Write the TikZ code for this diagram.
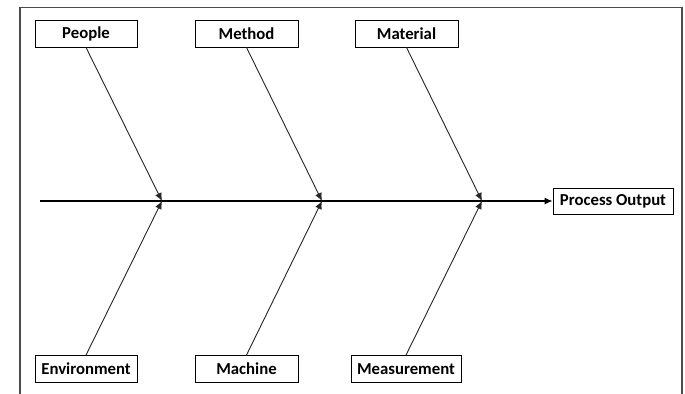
\documentclass[tikz,border=0pt]{standalone}
\usepackage{fontspec}
\setmainfont{Carlito}
\usetikzlibrary{arrows.meta}
\begin{document}
\begin{tikzpicture}[x=1bp,y=-1bp,
  cat/.style={draw=black,line width=0.9bp,fill=white,font=\fontsize{16.8}{18}\selectfont\bfseries,
    minimum height=27bp,inner sep=0pt,anchor=center},
  bone/.style={line width=0.9bp,draw=black!85,-{Latex[length=8bp,width=7bp]}},
  spine/.style={line width=1.1bp,draw=black,-{Latex[length=8bp,width=7bp]}}]
\useasboundingbox (0,0) rectangle (685,393);
\fill[white] (0,0) rectangle (685,393);
\draw[line width=1.2bp,draw=black!70] (20,400) -- (20,7.5) -- (682,7.5) -- (682,400);
% category nodes
\node[cat,minimum width=102bp] (people) at (86,33.5) {People};
\node[cat,minimum width=103bp] (method) at (246.5,33.5) {Method};
\node[cat,minimum width=103bp] (material) at (406.5,33.5) {Material};
\node[cat,minimum width=102bp] (env) at (86,369) {Environment};
\node[cat,minimum width=103bp] (machine) at (246.5,369) {Machine};
\node[cat,minimum width=110bp] (meas) at (406,369) {Measurement};
\node[cat,minimum width=120bp,minimum height=26bp] (out) at (613,201) {Process Output};
% spine
\coordinate (start) at (40,201);
\coordinate (j1) at (162,201);
\coordinate (j2) at (322,201);
\coordinate (j3) at (482,201);
\draw[spine] (start) -- (out.west);
% bones
\draw[bone] (people.south) -- (j1);
\draw[bone] (env.north) -- (j1);
\draw[bone] (method.south) -- (j2);
\draw[bone] (machine.north) -- (j2);
\draw[bone] (material.south) -- (j3);
\draw[bone] (meas.north) -- (j3);
\end{tikzpicture}
\end{document}
